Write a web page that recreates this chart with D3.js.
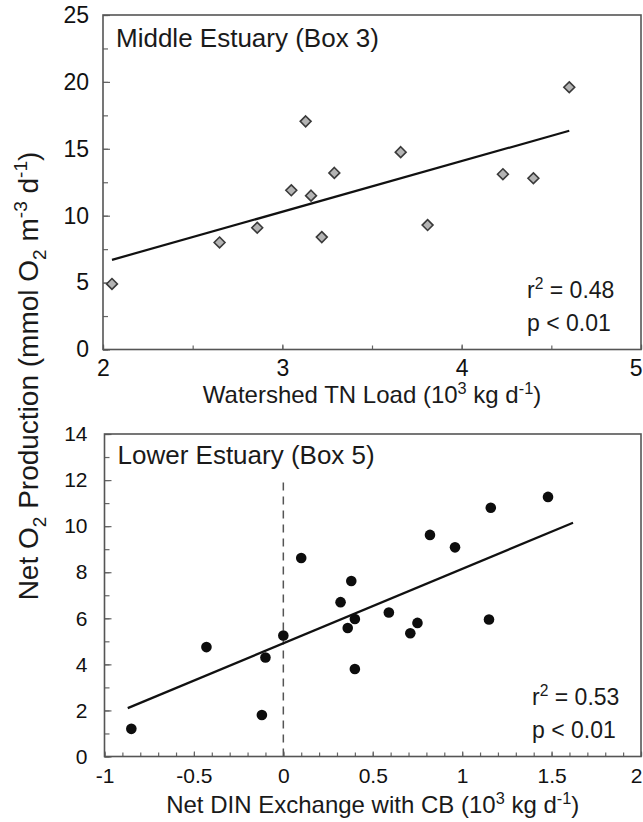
<!DOCTYPE html>
<html>
<head>
<meta charset="utf-8">
<script src="https://cdn.jsdelivr.net/npm/d3@7"></script>
<style>
  body { margin: 0; background: #fff; }
  svg { display: block; font-family: "Liberation Sans", Arial, sans-serif; }
</style>
</head>
<body>
<svg id="chart" width="643" height="822"></svg>
<script>
// Middle Estuary (Box 3): watershed TN load vs net O2 production
const middleTN = [2.05, 2.65, 2.86, 3.05, 3.13, 3.16, 3.22, 3.29, 3.66, 3.81, 4.23, 4.40, 4.60];
const middleO2 = [4.9, 8.0, 9.1, 11.9, 17.05, 11.5, 8.4, 13.2, 14.75, 9.3, 13.1, 12.8, 19.6];
const middleFitX = [2.05, 4.60];
const middleFitY = [6.7, 16.35];
const middleXTicks = [2, 3, 4, 5];
const middleYTicks = [0, 5, 10, 15, 20, 25];
const middleStats = ['0.48', 'p < 0.01'];

// Lower Estuary (Box 5): net DIN exchange with CB vs net O2 production
const lowerDIN = [-0.85, -0.43, -0.12, -0.10, 0.00, 0.10, 0.32, 0.36, 0.38, 0.40, 0.40, 0.59, 0.71, 0.75, 0.82, 0.96, 1.15, 1.16, 1.48];
const lowerO2 = [1.2, 4.75, 1.8, 4.3, 5.25, 8.62, 6.7, 5.58, 7.62, 5.97, 3.8, 6.25, 5.35, 5.8, 9.62, 9.08, 5.95, 10.8, 11.27];
const lowerFitX = [-0.87, 1.62];
const lowerFitY = [2.1, 10.15];
const lowerXTicks = [-1, -0.5, 0, 0.5, 1, 1.5, 2];
const lowerYTicks = [0, 2, 4, 6, 8, 10, 12, 14];
const lowerStats = ['0.53', 'p < 0.01'];

const svg = d3.select('#chart');

// text made of pieces, some raised or lowered
function richText(sel, parts, size) {
  let shift = 0;
  parts.forEach(p => {
    const target = p.sup ? -size * 0.38 : p.sub ? size * 0.28 : 0;
    sel.append('tspan')
      .attr('dy', target - shift)
      .attr('font-size', p.sup || p.sub ? size * 0.68 : size)
      .text(p.t);
    shift = target;
  });
}

function drawPanel(cfg) {
  const g = svg.append('g');
  const x = d3.scaleLinear(cfg.xDomain, cfg.xRange);
  const y = d3.scaleLinear(cfg.yDomain, cfg.yRange);
  const [x0, x1] = cfg.xRange, [y0, y1] = cfg.yRange;
  const lastX = cfg.xTicks[cfg.xTicks.length - 1];

  // minor ticks
  g.append('g')
    .attr('transform', `translate(${x0},0)`)
    .call(d3.axisLeft(y).tickValues(cfg.yMinor).tickSize(-5).tickFormat(''))
    .call(a => a.select('.domain').remove())
    .call(a => a.selectAll('line').attr('stroke', '#666').attr('stroke-width', 1.2));
  g.append('g')
    .attr('transform', `translate(0,${y0})`)
    .call(d3.axisBottom(x).tickValues(cfg.xMinor).tickSize(-4).tickFormat(''))
    .call(a => a.select('.domain').remove())
    .call(a => a.selectAll('line').attr('stroke', '#666').attr('stroke-width', 1.2));

  // major ticks + labels
  g.append('g')
    .attr('transform', `translate(${x0},0)`)
    .call(d3.axisLeft(y).tickValues(cfg.yTicks).tickSize(-7).tickPadding(cfg.yPad).tickFormat(d3.format('d')))
    .call(a => a.select('.domain').remove())
    .call(a => a.selectAll('line').attr('stroke', '#666').attr('stroke-width', 1.2))
    .call(a => a.selectAll('text').attr('font-size', cfg.tickSize).attr('fill', '#111')
      .attr('font-family', '"Liberation Sans", Arial, sans-serif'));
  g.append('g')
    .attr('transform', `translate(0,${y0})`)
    .call(d3.axisBottom(x).tickValues(cfg.xTicks).tickSize(-5).tickPadding(cfg.xPad).tickFormat(d => String(d)))
    .call(a => a.select('.domain').remove())
    .call(a => a.selectAll('line').attr('stroke', '#666').attr('stroke-width', 1.2))
    .call(a => a.selectAll('text').attr('font-size', cfg.tickSize).attr('fill', '#111')
      .attr('font-family', '"Liberation Sans", Arial, sans-serif'))
    // last label sits against the page edge
    .call(a => a.selectAll('.tick').filter(d => d === lastX).select('text')
      .attr('text-anchor', 'end').attr('x', 1));

  // frame
  g.append('rect')
    .attr('x', x0).attr('y', y1)
    .attr('width', x1 - x0).attr('height', y0 - y1)
    .attr('fill', 'none')
    .attr('stroke', '#555')
    .attr('stroke-width', 1.6);

  if (cfg.zeroLine) {
    g.append('line')
      .attr('x1', x(0)).attr('x2', x(0))
      .attr('y1', y(0)).attr('y2', y(cfg.zeroLine))
      .attr('stroke', '#555')
      .attr('stroke-width', 1.5)
      .attr('stroke-dasharray', '8,6');
  }

  // regression line
  g.append('line')
    .attr('x1', x(cfg.fitX[0])).attr('y1', y(cfg.fitY[0]))
    .attr('x2', x(cfg.fitX[1])).attr('y2', y(cfg.fitY[1]))
    .attr('stroke', '#111')
    .attr('stroke-width', 2.2);

  // points
  const pts = cfg.xs.map((v, i) => ({ x: v, y: cfg.ys[i] }));
  if (cfg.marker === 'diamond') {
    const sym = d3.symbol().type(d3.symbolDiamond2).size(75);
    g.append('g').selectAll('path')
      .data(pts)
      .join('path')
      .attr('transform', d => `translate(${x(d.x)},${y(d.y)})`)
      .attr('d', sym)
      .attr('fill', '#b4b4b4')
      .attr('stroke', '#3a3a3a')
      .attr('stroke-width', 1.6);
  } else {
    g.append('g').selectAll('circle')
      .data(pts)
      .join('circle')
      .attr('cx', d => x(d.x))
      .attr('cy', d => y(d.y))
      .attr('r', 5.3)
      .attr('fill', '#0d0d0d');
  }

  // panel title
  g.append('text')
    .attr('x', x0 + 13)
    .attr('y', cfg.titleY)
    .attr('font-size', 26)
    .attr('fill', '#1a1a1a')
    .text(cfg.title);

  // stats
  const st = g.append('text')
    .attr('x', cfg.statX)
    .attr('y', cfg.statY)
    .attr('font-size', 23)
    .attr('fill', '#1a1a1a');
  richText(st, [{ t: 'r' }, { t: '2', sup: true }, { t: ' = ' + cfg.stats[0] }], 23);
  g.append('text')
    .attr('x', cfg.statX)
    .attr('y', cfg.statY + 33)
    .attr('font-size', 23)
    .attr('fill', '#1a1a1a')
    .text(cfg.stats[1]);

  // x axis title
  const xt = g.append('text')
    .attr('x', (x0 + x1) / 2)
    .attr('y', cfg.xTitleY)
    .attr('text-anchor', 'middle')
    .attr('fill', '#1a1a1a');
  richText(xt, cfg.xTitle, 24);
}

drawPanel({
  xs: middleTN, ys: middleO2, fitX: middleFitX, fitY: middleFitY,
  xDomain: [2, 5], yDomain: [0, 25],
  xRange: [103, 641], yRange: [349.5, 15],
  xTicks: middleXTicks, yTicks: middleYTicks,
  xMinor: d3.range(2, 5.01, 0.5), yMinor: d3.range(0, 25.01, 2.5),
  tickSize: 23, xPad: 10, yPad: 14,
  marker: 'diamond',
  title: 'Middle Estuary (Box 3)', titleY: 47,
  stats: middleStats, statX: 527, statY: 298,
  xTitleY: 403,
  xTitle: [{ t: 'Watershed TN Load (10' }, { t: '3', sup: true }, { t: ' kg d' }, { t: '-1', sup: true }, { t: ')' }]
});

drawPanel({
  xs: lowerDIN, ys: lowerO2, fitX: lowerFitX, fitY: lowerFitY,
  xDomain: [-1, 2], yDomain: [0, 14],
  xRange: [104.5, 641], yRange: [756.5, 434],
  xTicks: lowerXTicks, yTicks: lowerYTicks,
  xMinor: d3.range(-1, 2.01, 0.1), yMinor: d3.range(0, 14.01, 1),
  tickSize: 21, xPad: 12, yPad: 17,
  marker: 'circle', zeroLine: 12.1,
  title: 'Lower Estuary (Box 5)', titleY: 464,
  stats: lowerStats, statX: 532, statY: 705,
  xTitleY: 813,
  xTitle: [{ t: 'Net DIN Exchange with CB (10' }, { t: '3', sup: true }, { t: ' kg d' }, { t: '-1', sup: true }, { t: ')' }]
});

// shared y axis title
const yt = svg.append('text')
  .attr('transform', 'translate(38,376) rotate(-90)')
  .attr('text-anchor', 'middle')
  .attr('fill', '#1a1a1a');
richText(yt, [
  { t: 'Net O' }, { t: '2', sub: true }, { t: ' Production (mmol O' }, { t: '2', sub: true },
  { t: ' m' }, { t: '-3', sup: true }, { t: ' d' }, { t: '-1', sup: true }, { t: ')' }
], 28);
</script>
</body>
</html>
